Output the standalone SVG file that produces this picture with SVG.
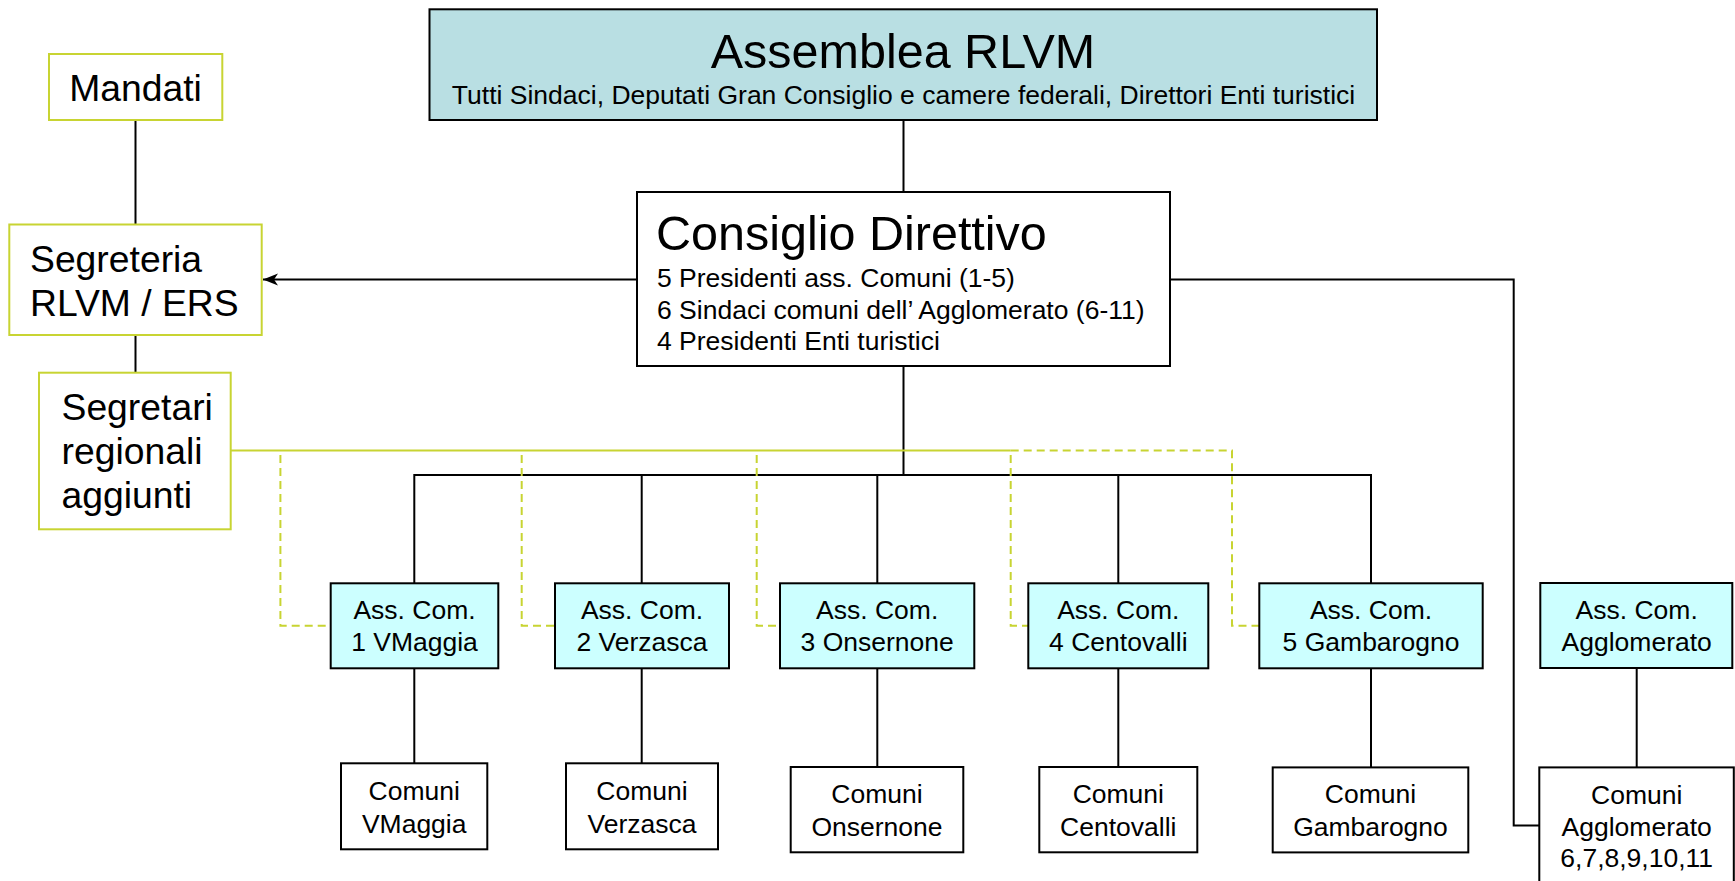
<svg xmlns="http://www.w3.org/2000/svg" width="1735" height="881" viewBox="0 0 1735 881">
<style>
text{font-family:"Liberation Sans",Arial,sans-serif;fill:#000}
.t26{font-size:26.5px}
.t37{font-size:37.3px}
.t48{font-size:48.5px}
.c{text-anchor:middle}
.box{fill:#fff;stroke:#000;stroke-width:2}
.yg{fill:#fff;stroke:#c8d432;stroke-width:2}
.asm{fill:#b9dfe3;stroke:#000;stroke-width:2}
.ac{fill:#ccffff;stroke:#000;stroke-width:2}
.ln{stroke:#000;stroke-width:2;fill:none}
.yl{stroke:#c8d432;stroke-width:2;fill:none}
.yd{stroke:#c8d432;stroke-width:2;fill:none;stroke-dasharray:8 5}
</style>
<defs>
<marker id="arr" markerUnits="userSpaceOnUse" markerWidth="18" markerHeight="16" viewBox="-16 -8 18 16" refX="0" refY="0" orient="auto">
<path d="M0,0 L-15,-6 L-11,0 L-15,6 Z" fill="#000"/>
</marker>
</defs>
<rect width="1735" height="881" fill="#fff"/>
<g id="connectors">
<path class="ln" d="M135.5 120 V224.5"/>
<path class="ln" d="M135.5 335 V372.7"/>
<path class="ln" d="M903.5 120 V192"/>
<path class="ln" d="M637 279.6 H263" marker-end="url(#arr)"/>
<path class="ln" d="M1170 279.6 H1513.7 V825.4 H1539.3"/>
<path class="ln" d="M903.5 366 V475"/>
<path class="ln" d="M414.3 583.3 V475 H1371 V583.3"/>
<path class="ln" d="M641.7 475 V583.3"/>
<path class="ln" d="M877.3 475 V583.3"/>
<path class="ln" d="M1118.3 475 V583.3"/>
<path class="ln" d="M414.3 668.3 V763.3"/>
<path class="ln" d="M641.7 668.3 V763.3"/>
<path class="ln" d="M877.3 668.3 V767"/>
<path class="ln" d="M1118.3 668.3 V767"/>
<path class="ln" d="M1371 668.3 V767.4"/>
<path class="ln" d="M1636.7 668 V767.4"/>
<path class="yl" d="M230.7 450.5 H1010.7"/>
<path class="yd" d="M1010.7 450.5 H1232 V625.7 H1259.3"/>
<path class="yd" d="M280.4 455 V625.7 H330.7"/>
<path class="yd" d="M521.7 455 V625.7 H555"/>
<path class="yd" d="M756.7 455 V625.7 H780"/>
<path class="yd" d="M1010.7 455 V625.7 H1028.3"/>
</g>
<g id="assemblea">
<rect class="asm" x="429.5" y="9.3" width="947.5" height="110.7"/>
<text class="t48 c" x="903" y="68">Assemblea RLVM</text>
<text class="t26 c" x="903.5" y="104">Tutti Sindaci, Deputati Gran Consiglio e camere federali, Direttori Enti turistici</text>
</g>
<g id="consiglio">
<rect class="box" x="637" y="192" width="533" height="174"/>
<text class="t48" x="656" y="250">Consiglio Direttivo</text>
<text class="t26" x="657" y="287">5 Presidenti ass. Comuni (1-5)</text>
<text class="t26" x="657" y="319">6 Sindaci comuni dell’ Agglomerato (6-11)</text>
<text class="t26" x="657" y="350">4 Presidenti Enti turistici</text>
</g>
<g id="mandati">
<rect class="yg" x="49" y="54" width="173.3" height="66"/>
<text class="t37 c" x="135.5" y="100.5">Mandati</text>
</g>
<g id="segreteria">
<rect class="yg" x="9.3" y="224.5" width="252.4" height="110.5"/>
<text class="t37" x="30" y="271.5">Segreteria</text>
<text class="t37" x="30" y="316">RLVM / ERS</text>
</g>
<g id="segretari">
<rect class="yg" x="39" y="372.7" width="191.7" height="156.6"/>
<text class="t37" x="61.5" y="420">Segretari</text>
<text class="t37" x="61.5" y="464">regionali</text>
<text class="t37" x="61.5" y="508">aggiunti</text>
</g>
<g id="ass1">
<rect class="ac" x="330.7" y="583.3" width="167.6" height="85"/>
<text class="t26 c" x="414.5" y="619">Ass. Com.</text>
<text class="t26 c" x="414.5" y="651">1 VMaggia</text>
</g>
<g id="ass2">
<rect class="ac" x="555" y="583.3" width="174" height="85"/>
<text class="t26 c" x="642" y="619">Ass. Com.</text>
<text class="t26 c" x="642" y="651">2 Verzasca</text>
</g>
<g id="ass3">
<rect class="ac" x="780" y="583.3" width="194.3" height="85"/>
<text class="t26 c" x="877.2" y="619">Ass. Com.</text>
<text class="t26 c" x="877.2" y="651">3 Onsernone</text>
</g>
<g id="ass4">
<rect class="ac" x="1028.3" y="583.3" width="180" height="85"/>
<text class="t26 c" x="1118.3" y="619">Ass. Com.</text>
<text class="t26 c" x="1118.3" y="651">4 Centovalli</text>
</g>
<g id="ass5">
<rect class="ac" x="1259.3" y="583.3" width="223.4" height="85"/>
<text class="t26 c" x="1371" y="619">Ass. Com.</text>
<text class="t26 c" x="1371" y="651">5 Gambarogno</text>
</g>
<g id="assAgg">
<rect class="ac" x="1540.3" y="583" width="192" height="85"/>
<text class="t26 c" x="1636.7" y="619">Ass. Com.</text>
<text class="t26 c" x="1636.7" y="651">Agglomerato</text>
</g>
<g id="com1">
<rect class="box" x="341" y="763.3" width="146.3" height="86"/>
<text class="t26 c" x="414.2" y="800">Comuni</text>
<text class="t26 c" x="414.2" y="832.5">VMaggia</text>
</g>
<g id="com2">
<rect class="box" x="566" y="763.3" width="152" height="86"/>
<text class="t26 c" x="642" y="800">Comuni</text>
<text class="t26 c" x="642" y="832.5">Verzasca</text>
</g>
<g id="com3">
<rect class="box" x="790.7" y="767" width="172.6" height="85.3"/>
<text class="t26 c" x="877" y="803">Comuni</text>
<text class="t26 c" x="877" y="835.5">Onsernone</text>
</g>
<g id="com4">
<rect class="box" x="1039.3" y="767" width="158" height="85.3"/>
<text class="t26 c" x="1118.3" y="803">Comuni</text>
<text class="t26 c" x="1118.3" y="835.5">Centovalli</text>
</g>
<g id="com5">
<rect class="box" x="1272.7" y="767.4" width="195.6" height="85"/>
<text class="t26 c" x="1370.5" y="803">Comuni</text>
<text class="t26 c" x="1370.5" y="835.5">Gambarogno</text>
</g>
<g id="comAgg">
<rect class="box" x="1539.3" y="767.4" width="194.5" height="125"/>
<text class="t26 c" x="1636.7" y="803.5">Comuni</text>
<text class="t26 c" x="1636.7" y="835.5">Agglomerato</text>
<text class="t26 c" x="1636.7" y="867">6,7,8,9,10,11</text>
</g>
</svg>
